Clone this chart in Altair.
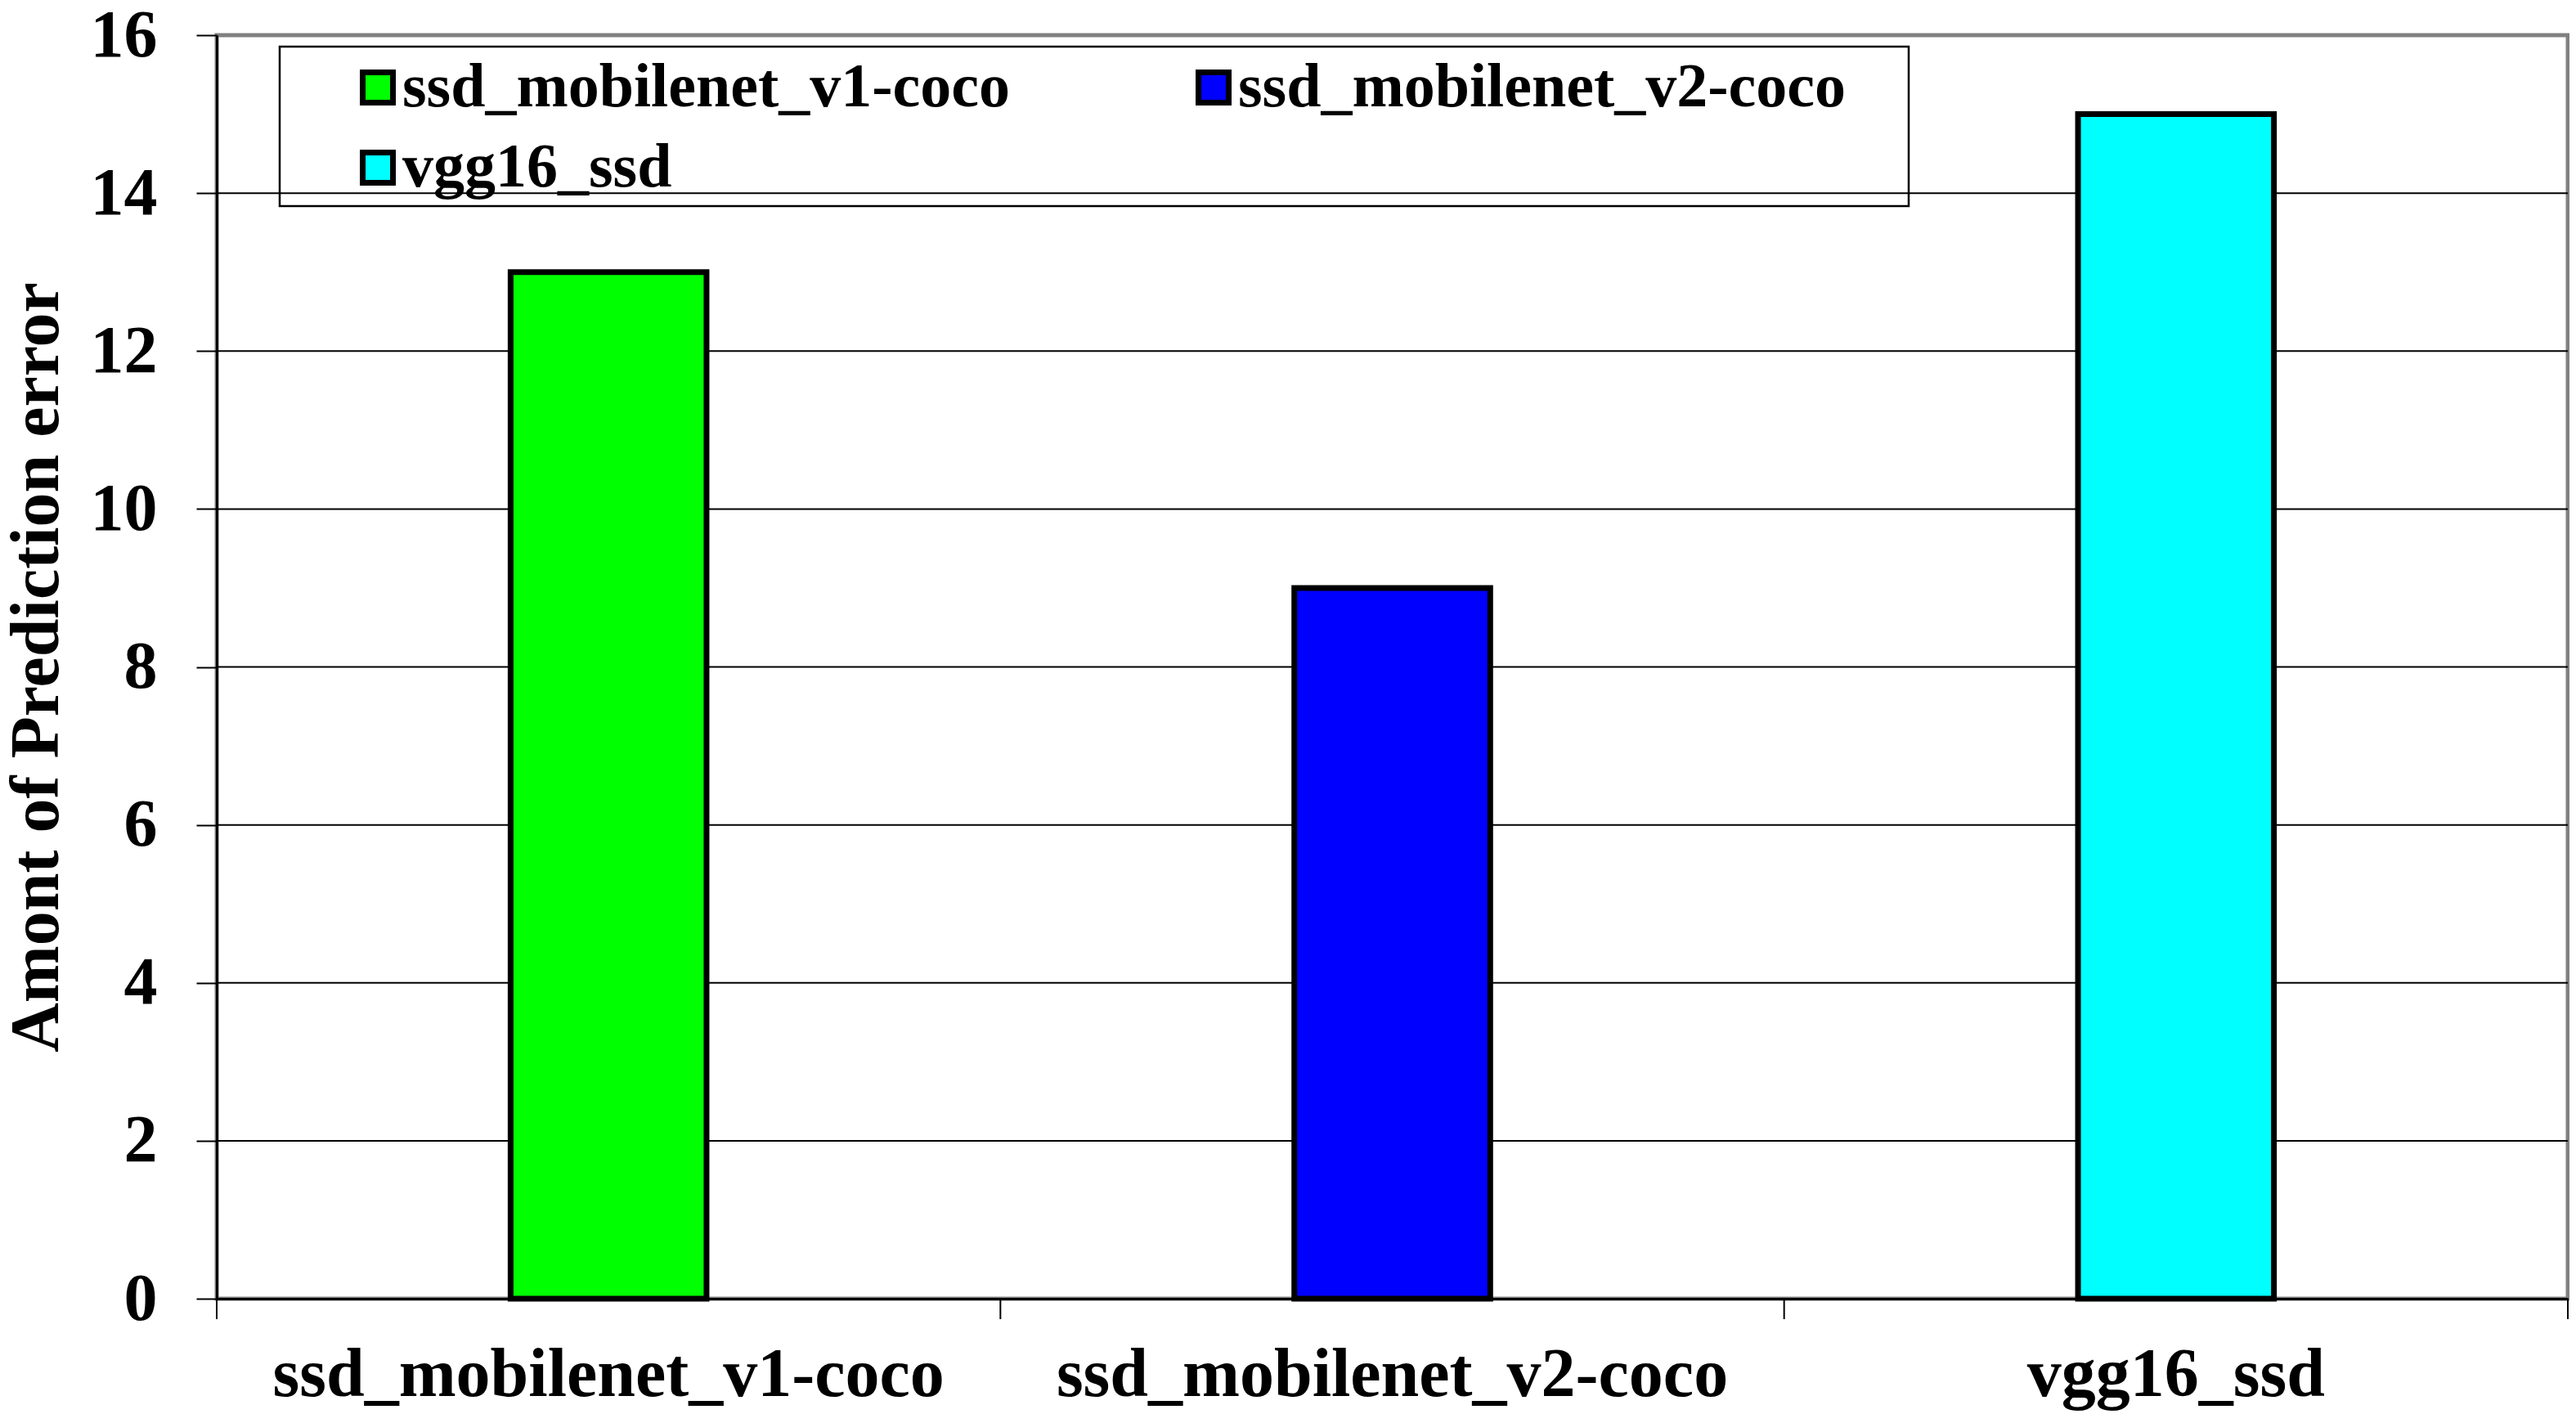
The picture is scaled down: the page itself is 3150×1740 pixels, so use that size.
import altair as alt
import pandas as pd

# ---- data ----
models = ["ssd_mobilenet_v1-coco", "ssd_mobilenet_v2-coco", "vgg16_ssd"]
errors = [13, 9, 15]
colors = ["#00FF00", "#0000FF", "#00FFFF"]
y_ticks = [0, 2, 4, 6, 8, 10, 12, 14, 16]
grid_values = [2, 4, 6, 8, 10, 12, 14]
category_boundaries = [0, 1, 2, 3]

FONT = "Liberation Serif"
W, H = 2875, 1545

df = pd.DataFrame({"model": models, "error": errors})
bounds = pd.DataFrame({"b": category_boundaries})
grid_df = pd.DataFrame({"g": grid_values})

y_scale = alt.Scale(domain=[0, 16], nice=False)
y_axis = alt.Axis(
    title="Amont of Prediction error",
    titleFont=FONT,
    titleFontWeight="bold",
    titleFontSize=84,
    titleColor="black",
    titleAngle=270,
    titleX=-195,
    titleY=H / 2,
    titleAlign="center",
    titleBaseline="alphabetic",
    values=y_ticks,
    format="d",
    labelFont=FONT,
    labelFontWeight="bold",
    labelFontSize=82,
    labelColor="black",
    labelPadding=48,
    tickSize=25,
    tickColor="black",
    tickWidth=2,
    domainColor="black",
    domainWidth=3,
    grid=False,
)

gridlines = alt.Chart(grid_df).mark_rule(stroke="black", strokeWidth=2).encode(
    y=alt.Y("g:Q", scale=y_scale, axis=y_axis),
)

bars = alt.Chart(df).mark_bar(stroke="black", strokeWidth=7).encode(
    x=alt.X(
        "model:N",
        sort=models,
        scale=alt.Scale(paddingInner=0.75, paddingOuter=0.375),
        axis=alt.Axis(
            title=None,
            labelAngle=0,
            labelFont=FONT,
            labelFontWeight="bold",
            labelFontSize=84,
            labelColor="black",
            labelPadding=52,
            labelLimit=0,
            ticks=False,
            domainColor="black",
            domainWidth=3,
            grid=False,
        ),
    ),
    y=alt.Y("error:Q", scale=y_scale, axis=y_axis),
    color=alt.Color(
        "model:N",
        sort=models,
        scale=alt.Scale(domain=models, range=colors),
        legend=alt.Legend(
            title=None,
            orient="none",
            legendX=159,
            legendY=26,
            direction="horizontal",
            columns=2,
            columnPadding=210,
            rowPadding=22,
            symbolType="square",
            symbolSize=1369,
            symbolStrokeColor="black",
            symbolStrokeWidth=7,
            symbolOpacity=1,
            labelFont=FONT,
            labelFontWeight="bold",
            labelFontSize=76,
            labelColor="black",
            labelOffset=alt.ExprRef("-8"),
            labelLimit=0,
            padding=0,
        ),
    ),
)

legend_box = alt.Chart(alt.Data(values=[{"k": 1}])).mark_rect(
    filled=False, stroke="black", strokeWidth=2.5
).encode(
    x=alt.value(77), x2=alt.value(2069), y=alt.value(14), y2=alt.value(209)
)

ticks = alt.Chart(bounds).mark_rule(stroke="black", strokeWidth=2).encode(
    x=alt.X("b:Q", scale=alt.Scale(domain=[0, 3], nice=False, zero=True), axis=None),
    y=alt.value(H),
    y2=alt.value(H + 25),
)

chart = (
    alt.layer(gridlines, bars, legend_box, ticks)
    .resolve_scale(x="independent")
    .properties(
        width=W,
        height=H,
        autosize=alt.AutoSizeParams(type="none"),
        padding={"left": 257, "top": 35, "right": 2, "bottom": 140},
        background="white",
    )
    .configure_view(stroke="#808080", strokeWidth=5)
)

chart.save("out.html", embed_options={"renderer": "svg", "actions": False})
